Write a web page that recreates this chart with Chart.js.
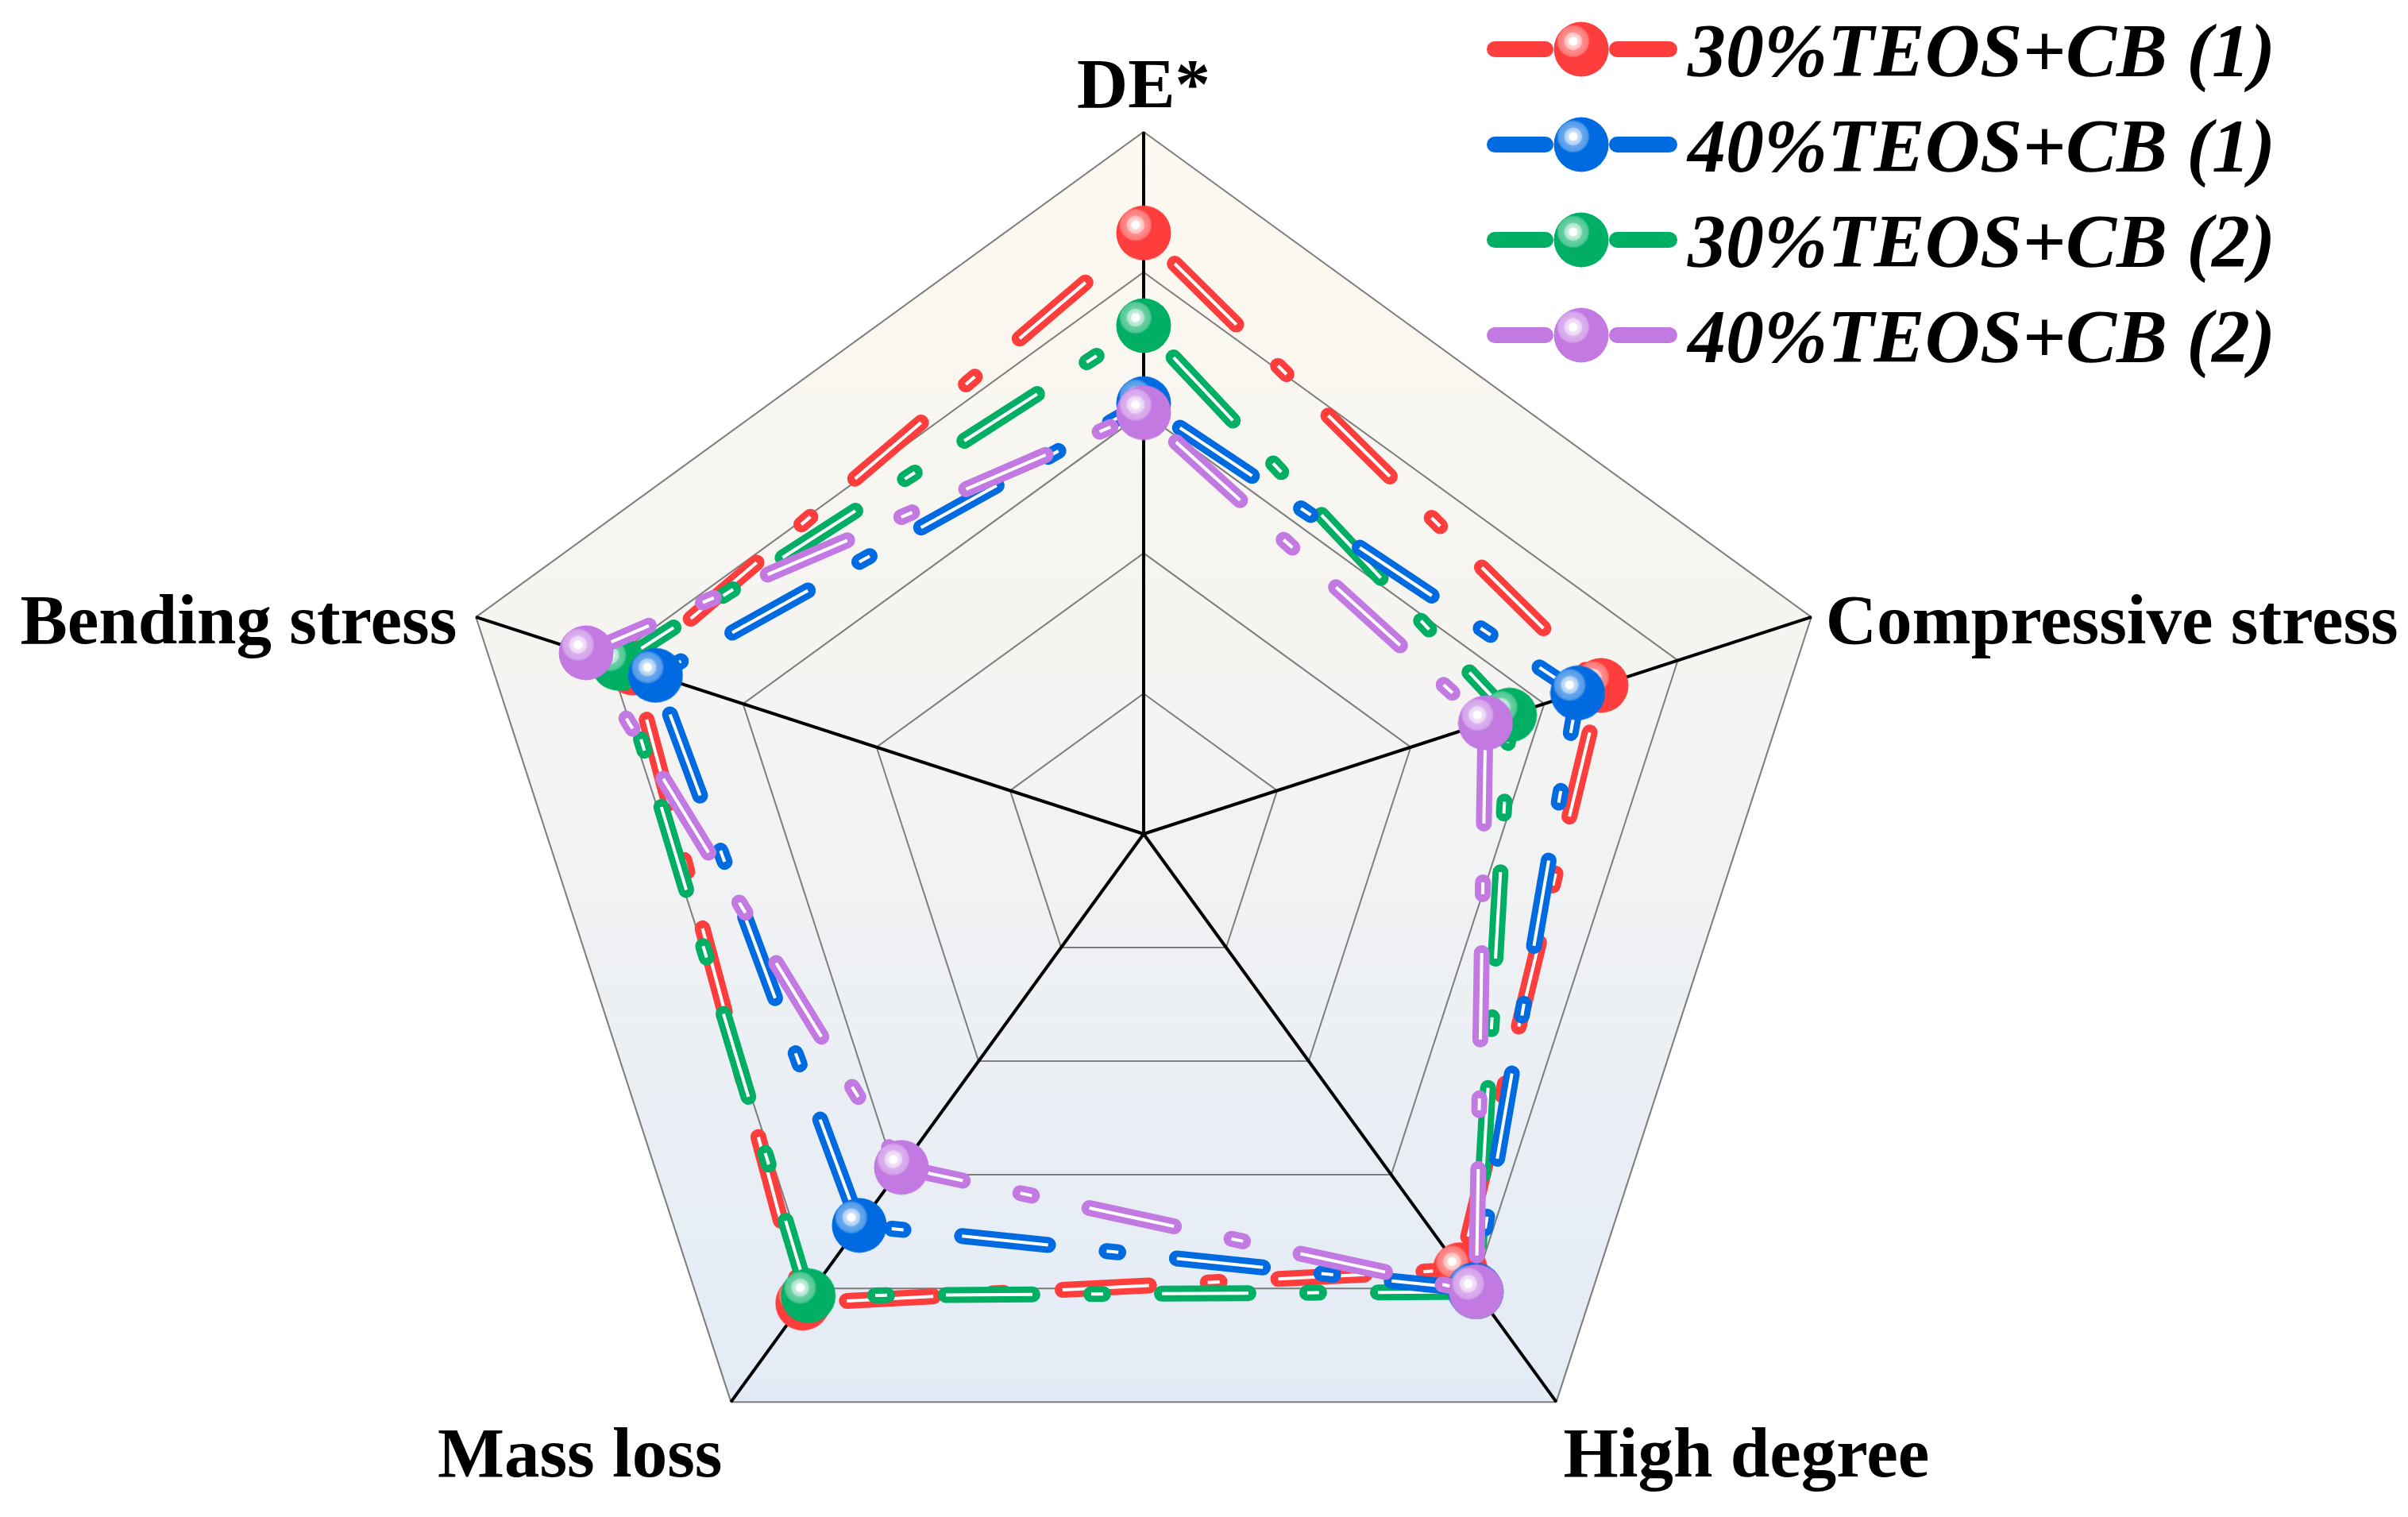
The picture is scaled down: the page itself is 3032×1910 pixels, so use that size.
<!DOCTYPE html>
<html>
<head>
<meta charset="utf-8">
<script src="https://cdn.jsdelivr.net/npm/chart.js@4.4.0/dist/chart.umd.min.js"></script>
<style>
html, body { margin: 0; padding: 0; background: #fff; overflow: hidden; }
#wrap { position: relative; width: 3032px; height: 1910px; overflow: hidden; }
#legend { position: absolute; left: 0; top: 0; }
.icon { position: absolute; left: 1870px; }
.ltext { position: absolute; left: 2125px; font: italic bold 96px "Liberation Serif", "Times New Roman", serif; line-height: 96px; white-space: nowrap; color: #000; }
</style>
</head>
<body>
<div id="wrap">
  <canvas id="myChart" width="3032" height="2000"></canvas>
  <div id="legend"></div>
</div>
<script>
'use strict';
// axis names, clockwise from the top
let axisNames = ['DE*', 'Compressive stress', 'High degree', 'Mass loss', 'Bending stress'];
let seriesNames = ['30%TEOS+CB (1)', '40%TEOS+CB (1)', '30%TEOS+CB (2)', '40%TEOS+CB (2)'];
// values (fraction of outer ring)
let teos30a = [0.856, 0.685, 0.767, 0.826, 0.765];
let teos40a = [0.613, 0.650, 0.802, 0.689, 0.731];
let teos30b = [0.724, 0.548, 0.806, 0.813, 0.787];
let teos40b = [0.600, 0.512, 0.806, 0.587, 0.835];
let ringTicks = [0, 0.2, 0.4, 0.6, 0.8, 1];

let seriesData = [teos30a, teos40a, teos30b, teos40b];
let seriesColors = ['#fe3d3d', '#006be0', '#00ae64', '#c27ae2'];
// stacking: red at the bottom, then green, blue, purple on top
let stackRank = [0, 2, 1, 3];

let dash = [109, 74, 15, 74];
let dashOffset = 217;

function makeSphere(color, r) {
    let c = document.createElement('canvas');
    c.width = 2 * r;
    c.height = 2 * r;
    let g = c.getContext('2d');
    g.fillStyle = color;
    g.beginPath();
    g.arc(r, r, r - 0.5, 0, Math.PI * 2);
    g.fill();
    let hx = r - 0.29 * r, hy = r - 0.29 * r;
    let rg = g.createRadialGradient(hx, hy, 0, hx, hy, 0.6 * r);
    rg.addColorStop(0, 'rgba(255,255,255,1)');
    rg.addColorStop(0.22, 'rgba(255,255,255,1)');
    rg.addColorStop(0.3, 'rgba(255,255,255,0.78)');
    rg.addColorStop(0.5, 'rgba(255,255,255,0.68)');
    rg.addColorStop(0.56, 'rgba(255,255,255,0.42)');
    rg.addColorStop(0.88, 'rgba(255,255,255,0.32)');
    rg.addColorStop(1, 'rgba(255,255,255,0)');
    g.fillStyle = rg;
    g.beginPath();
    g.arc(r, r, r - 0.5, 0, Math.PI * 2);
    g.fill();
    return c;
}

let spheres = seriesColors.map(function (col) { return makeSphere(col, 35); });

let datasets = [];
for (let i = 0; i < seriesData.length; i++) {
    let k = stackRank[i];
    // thick coloured dash-dot line
    datasets.push({
        label: seriesNames[i],
        data: seriesData[i],
        borderColor: seriesColors[i],
        backgroundColor: 'transparent',
        borderWidth: 20,
        borderDash: dash,
        borderDashOffset: dashOffset,
        borderCapStyle: 'round',
        borderJoinStyle: 'round',
        fill: false,
        pointRadius: 0,
        pointHoverRadius: 0,
        order: 8 - 2 * k
    });
    // thin white core plus the sphere markers
    datasets.push({
        label: seriesNames[i] + ' core',
        data: seriesData[i],
        borderColor: '#ffffff',
        backgroundColor: 'transparent',
        borderWidth: 4,
        borderDash: dash,
        borderDashOffset: dashOffset,
        borderCapStyle: 'butt',
        fill: false,
        pointStyle: spheres[i],
        pointRadius: 35,
        pointHoverRadius: 35,
        order: 7 - 2 * k
    });
}

let radarDecor = {
    id: 'radarDecor',
    beforeDraw(chart) {
        let s = chart.scales.r;
        let ctx = chart.ctx;
        ctx.save();
        ctx.beginPath();
        for (let i = 0; i < axisNames.length; i++) {
            let p = s.getPointPosition(i, s.drawingArea);
            if (i === 0) ctx.moveTo(p.x, p.y); else ctx.lineTo(p.x, p.y);
        }
        ctx.closePath();
        let top = s.yCenter - s.drawingArea;
        let bottom = s.getPointPosition(2, s.drawingArea).y;
        let grad = ctx.createLinearGradient(0, top, 0, bottom);
        grad.addColorStop(0, '#fdf9ef');
        grad.addColorStop(0.5, '#f3f3f2');
        grad.addColorStop(1, '#e3ebf6');
        ctx.fillStyle = grad;
        ctx.fill();
        ctx.restore();
    },
    afterDraw(chart) {
        let s = chart.scales.r;
        let ctx = chart.ctx;
        ctx.save();
        ctx.fillStyle = '#000';
        ctx.font = 'bold 89px "Liberation Serif", "Times New Roman", serif';
        ctx.textBaseline = 'alphabetic';
        for (let i = 0; i < axisNames.length; i++) {
            let p = s.getPointPosition(i, s.drawingArea);
            if (Math.abs(p.x - s.xCenter) < 2) {
                ctx.textAlign = 'center';
                ctx.fillText(axisNames[i], p.x, p.y - 31);
            } else if (p.y < s.yCenter) {
                ctx.textAlign = p.x > s.xCenter ? 'left' : 'right';
                ctx.fillText(axisNames[i], p.x + (p.x > s.xCenter ? 18 : -24), p.y + 33);
            } else {
                ctx.textAlign = p.x > s.xCenter ? 'left' : 'right';
                ctx.fillText(axisNames[i], p.x + (p.x > s.xCenter ? 9 : -11), p.y + 94);
            }
        }
        ctx.restore();
    }
};

let ctx = document.getElementById('myChart').getContext('2d');
let myChart = new Chart(ctx, {
    type: 'radar',
    data: {
        labels: axisNames,
        datasets: datasets
    },
    options: {
        responsive: false,
        animation: false,
        devicePixelRatio: 1,
        layout: { padding: { left: 556, right: 708, top: 166, bottom: 66 } },
        plugins: {
            legend: { display: false },
            tooltip: { enabled: false }
        },
        elements: { line: { tension: 0 } },
        scales: {
            r: {
                min: ringTicks[0],
                max: ringTicks[ringTicks.length - 1],
                afterBuildTicks: function (scale) {
                    scale.ticks = ringTicks.map(function (v) { return { value: v }; });
                },
                ticks: { display: false },
                pointLabels: { display: false },
                grid: { circular: false, color: '#7d7d7d', lineWidth: 2 },
                angleLines: { color: '#000', lineWidth: 4 }
            }
        }
    },
    plugins: [radarDecor]
});

// legend, drawn as html next to the chart
let legendEl = document.getElementById('legend');
let legendCenters = [62, 182, 302, 422];
for (let i = 0; i < seriesNames.length; i++) {
    let ic = document.createElement('canvas');
    ic.width = 244;
    ic.height = 72;
    ic.className = 'icon';
    ic.style.top = (legendCenters[i] - 36) + 'px';
    let g = ic.getContext('2d');
    g.strokeStyle = seriesColors[i];
    g.lineWidth = 20;
    g.lineCap = 'round';
    g.beginPath();
    g.moveTo(12, 36); g.lineTo(76, 36);
    g.moveTo(166, 36); g.lineTo(232, 36);
    g.stroke();
    g.drawImage(spheres[i], 121 - 35, 36 - 35);
    legendEl.appendChild(ic);

    let t = document.createElement('div');
    t.className = 'ltext';
    t.textContent = seriesNames[i];
    t.style.top = (legendCenters[i] + 34 - 80) + 'px';
    legendEl.appendChild(t);
}
</script>
</body>
</html>
